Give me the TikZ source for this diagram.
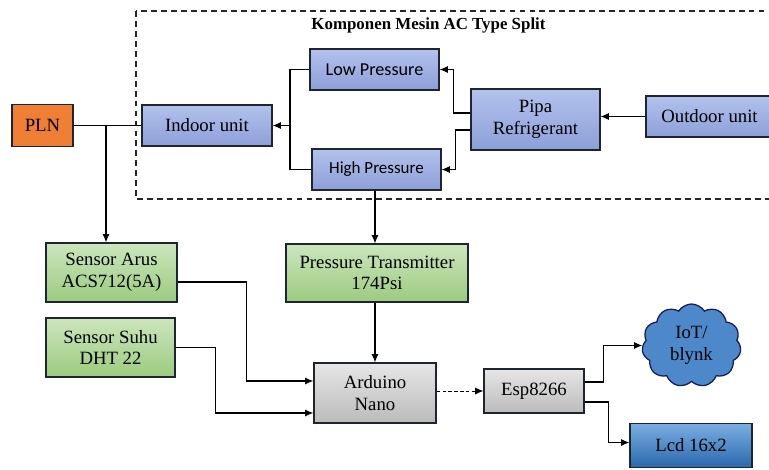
\documentclass[tikz,border=0pt]{standalone}
\usepackage{fontspec}
\setmainfont{Liberation Serif}
\newfontfamily\calibrifont{Carlito}
\usetikzlibrary{arrows.meta, calc, shapes.symbols}
\newdimen\pxu \pxu=0.03cm
\definecolor{edgecol}{HTML}{1E2430}
\definecolor{blueTop}{HTML}{B3C2EC}
\definecolor{blueBot}{HTML}{8C9FD8}
\definecolor{greenTop}{HTML}{CBE6BC}
\definecolor{greenBot}{HTML}{9CCB80}
\definecolor{grayTop}{HTML}{E6E6E6}
\definecolor{grayBot}{HTML}{BBBBBB}
\definecolor{lcdTop}{HTML}{7AAEE2}
\definecolor{lcdBot}{HTML}{2A68AC}
\definecolor{cloudfill}{HTML}{4D89CA}
\definecolor{plnfill}{HTML}{EE7F35}
\tikzset{
  base/.style={draw=edgecol, line width=1.1pt, align=center, inner sep=0pt, font=\fontsize{16}{18.5}\selectfont},
  bluebox/.style={base, top color=blueTop, bottom color=blueBot},
  greenbox/.style={base, top color=greenTop, bottom color=greenBot},
  graybox/.style={base, top color=grayTop, bottom color=grayBot},
  lcdbox/.style={base, top color=lcdTop, bottom color=lcdBot},
  plnbox/.style={base, fill=plnfill},
  cloudnode/.style={base, cloud, cloud puffs=11, cloud puff arc=115, fill=cloudfill, draw=edgecol!80!blue},
  frame/.style={draw=black!85, line width=1.3pt, dash pattern=on 5pt off 3.5pt},
  arr/.style={-{Latex[length=7pt, width=6pt]}, line width=0.9pt},
  line/.style={line width=0.9pt},
  darr/.style={arr, line width=0.7pt, dash pattern=on 3pt off 2pt},
}
\begin{document}
\begin{tikzpicture}[x=0.03cm, y=-0.03cm]
    \useasboundingbox (0,0) rectangle (769,469);
    \clip (0,0) rectangle (769,469);
    % AC unit frame
    \draw[frame] (136,11) rectangle (790,199);
    \node[font=\bfseries\fontsize{14.4}{16}\selectfont] (title) at (428.5,25) {Komponen Mesin AC Type Split};
    \node[plnbox, minimum width=61\pxu, minimum height=42\pxu] (pln) at (42.5,125.5) {PLN};
    \node[bluebox, minimum width=130\pxu, minimum height=41\pxu] (indoor) at (207,125.5) {Indoor unit};
    \node[bluebox, minimum width=129\pxu, minimum height=41\pxu, font=\calibrifont\fontsize{15.5}{18}\selectfont] (low) at (374.5,69.5) {Low Pressure};
    \node[bluebox, minimum width=129\pxu, minimum height=41\pxu, font=\calibrifont\fontsize{14.5}{17}\selectfont] (high) at (376.5,169.5) {High Pressure};
    \node[bluebox, minimum width=129\pxu, minimum height=61\pxu] (pipa) at (535.5,119.5) {Pipa\\Refrigerant};
    \node[bluebox, minimum width=127\pxu, minimum height=41\pxu] (outdoor) at (709.5,116.5) {Outdoor unit};
    % sensors and controller
    \node[greenbox, minimum width=131\pxu, minimum height=59\pxu] (arus) at (111.5,272.5) {Sensor Arus\\ACS712(5A)};
    \node[greenbox, minimum width=182\pxu, minimum height=58\pxu] (trans) at (377,273) {Pressure Transmitter\\174Psi};
    \node[greenbox, minimum width=129\pxu, minimum height=59\pxu] (suhu) at (110.5,347.5) {Sensor Suhu\\DHT 22};
    \node[graybox, minimum width=122\pxu, minimum height=60\pxu] (nano) at (375,393) {Arduino\\Nano};
    \node[graybox, minimum width=100\pxu, minimum height=44\pxu] (esp) at (534,391) {Esp8266};
    \node[cloudnode, minimum width=99\pxu, minimum height=83\pxu] (iot) at (691.5,345.5) {IoT/\\blynk};
    \node[lcdbox, minimum width=122\pxu, minimum height=44\pxu] (lcd) at (691,445.5) {Lcd 16x2};
    % connectors
    \coordinate (split) at (106,125.5);
    \draw[line] (pln.east) -- (indoor.west);
    \draw[arr] (split) -- (split |- arus.north);
    \draw[arr] (outdoor.west) -- (outdoor.west -| pipa.east);
    \draw[arr] ($(pipa.west)+(0,-6.5)$) -- ++(-17,0) |- (low.east);
    \draw[arr] ($(pipa.west)+(0,10.5)$) -- ++(-15,0) |- (high.east);
    \coordinate (join) at (290,125.5);
    \draw[line] (low.west) -- (join |- low.west) -- (join |- high.west) -- (high.west);
    \draw[arr] (join) -- (indoor.east);
    \draw[arr] (high.south -| nano.north) -- (trans.north -| nano.north);
    \draw[arr] (trans.south -| nano.north) -- (nano.north);
    \draw[arr] ($(arus.east)+(0,9.5)$) -- ++(69,0) |- ($(nano.west)+(0,-12)$);
    \draw[arr] (suhu.east) -- ++(40,0) |- ($(nano.west)+(0,20)$);
    \draw[darr] (nano.east |- esp.west) -- (esp.west);
    \draw[arr] ($(esp.east)+(0,-9)$) -- ++(19,0) |- (iot.west);
    \draw[arr] ($(esp.east)+(0,11)$) -- ++(24,0) |- ($(lcd.west)+(0,-3)$);
\end{tikzpicture}
\end{document}
